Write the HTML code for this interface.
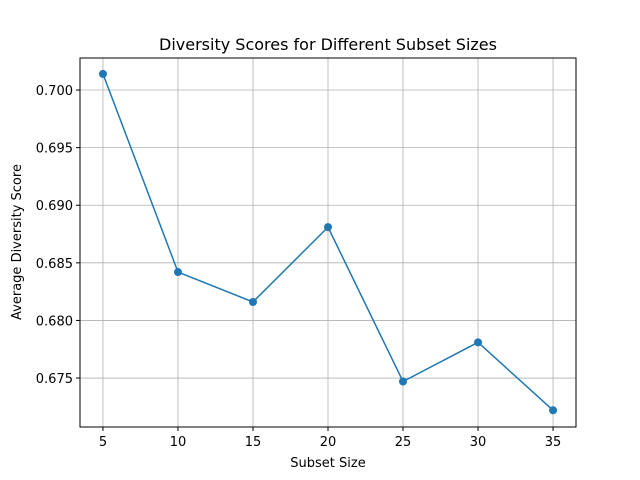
<!DOCTYPE html>
<html><head><meta charset="utf-8"><style>body{margin:0;background:#fff}svg{display:block;font-family:"DejaVu Sans","Liberation Sans",sans-serif}</style></head>
<body>
<svg id="chart" width="640" height="480">
<text x="328" y="50" text-anchor="middle" font-size="16">Diversity Scores for Different Subset Sizes</text>
<text x="328" y="467" text-anchor="middle" font-size="13">Subset Size</text>
<text transform="translate(21,242) rotate(-90)" text-anchor="middle" font-size="13">Average Diversity Score</text>
<g id="grid"></g><g id="ticks"></g><g id="series"></g>
<rect x="80" y="58" width="496" height="369" fill="none" stroke="#000" stroke-width="1"/>
</svg>
<script>
const categories = [5, 10, 15, 20, 25, 30, 35];
const scores = [0.7014, 0.6842, 0.6816, 0.6881, 0.6747, 0.6781, 0.6722];
const xTicks = [5, 10, 15, 20, 25, 30, 35];
const yTicks = [0.675, 0.680, 0.685, 0.690, 0.695, 0.700];
const NS = "http://www.w3.org/2000/svg";
const L=80,R=576,T=58,B=427;
const xMin=3.47,xMax=36.53,yMin=0.67075,yMax=0.70278;
const xs=v=>L+(v-xMin)/(xMax-xMin)*(R-L);
const ys=v=>B-(v-yMin)/(yMax-yMin)*(B-T);
function mk(tag,a,p){const e=document.createElementNS(NS,tag);for(const k in a)e.setAttribute(k,a[k]);p.appendChild(e);return e;}
const grid=document.getElementById('grid'),ticks=document.getElementById('ticks'),ser=document.getElementById('series');
xTicks.forEach(t=>{const x=xs(t);
 const g=mk('line',{x1:x,x2:x,y1:T,y2:B,stroke:'#b0b0b0','stroke-width':0.8},grid);
 
 
 mk('line',{x1:x,x2:x,y1:B,y2:B+4,stroke:'#000'},ticks);
 const tx=mk('text',{x:x,y:B+19,'text-anchor':'middle','font-size':13},ticks);tx.textContent=t;
 
 });
yTicks.forEach(t=>{const y=ys(t);
 const g=mk('line',{x1:L,x2:R,y1:y,y2:y,stroke:'#b0b0b0','stroke-width':0.8},grid);
 
 
 mk('line',{x1:L-4,x2:L,y1:y,y2:y,stroke:'#000'},ticks);
 const tx=mk('text',{x:L-7,y:y+5,'text-anchor':'end','font-size':13},ticks);tx.textContent=t.toFixed(3);
 
 });
const pl=mk('polyline',{points:categories.map((c,i)=>xs(c)+','+ys(scores[i])).join(' '),fill:'none',stroke:'#1f77b4','stroke-width':1.5},ser);


categories.forEach((c,i)=>{const p=mk('circle',{cx:xs(c),cy:ys(scores[i]),r:4,fill:'#1f77b4'},ser);
 
 });
</script>
</body></html>
